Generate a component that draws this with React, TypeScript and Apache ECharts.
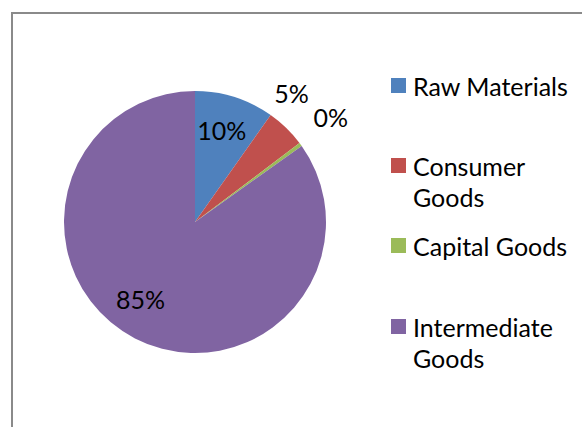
import React, { useEffect, useRef } from "react";
import * as echarts from "echarts";

const categories = ["Raw Materials", "Consumer Goods", "Capital Goods", "Intermediate Goods"];
const shares = [9.8, 4.9, 0.45, 84.85];
const legendLabels = ["Raw Materials", " \nConsumer\nGoods", "Capital Goods", " \nIntermediate\nGoods"];
const colors = ["#4F81BD", "#C0504D", "#9BBB59", "#8064A2"];
const labelPlacement = ["inside", "outside", "outside", "inside"];
const labelShift = [
  [6, -27],
  [-17, -35],
  [8, -28],
  [-23, 16],
];
const legendTops = [70, 119, 230, 280];

const FONT = "Lato";
const FS = 25;

export default function App() {
  const ref = useRef<HTMLDivElement>(null);
  useEffect(() => {
    const chart = echarts.init(ref.current!, null, { renderer: "svg" });
    const legends = categories.map((name, i) => ({
      show: true,
      orient: "vertical",
      left: 391,
      top: legendTops[i],
      padding: 0,
      itemWidth: 15,
      itemHeight: 15,
      itemGap: 0,
      icon: "rect",
      selectedMode: false,
      data: [name],
      formatter: () => legendLabels[i],
      textStyle: {
        fontFamily: FONT,
        fontSize: FS,
        color: "#000",
        lineHeight: 31,
        padding: [0, 0, 0, 2],
      },
    }));
    chart.setOption({
      animation: false,
      backgroundColor: "#fff",
      color: colors,
      legend: legends,
      graphic: [
        {
          type: "rect",
          shape: { x: 12, y: 13, width: 620, height: 500 },
          style: { fill: "none", stroke: "#8A8A8A", lineWidth: 2 },
          silent: true,
        },
      ],
      series: [
        {
          type: "pie",
          center: [195, 222],
          radius: [0, 131],
          startAngle: 90,
          clockwise: true,
          avoidLabelOverlap: false,
          itemStyle: { borderWidth: 0 },
          labelLine: { show: false, length: 0, length2: 0 },
          label: {
            formatter: (p: any) => Math.round(p.percent) + "%",
            fontFamily: FONT,
            fontSize: FS,
            color: "#000",
          },
          labelLayout: (p: any) => ({ dx: labelShift[p.dataIndex][0], dy: labelShift[p.dataIndex][1] }),
          data: categories.map((name, i) => ({
            name,
            value: shares[i],
            label: { position: labelPlacement[i] },
          })),
        },
      ],
    });
    return () => chart.dispose();
  }, []);
  return (
    <div
      ref={ref}
      style={{ position: "fixed", left: 0, top: 0, width: 582, height: 427 }}
    />
  );
}
